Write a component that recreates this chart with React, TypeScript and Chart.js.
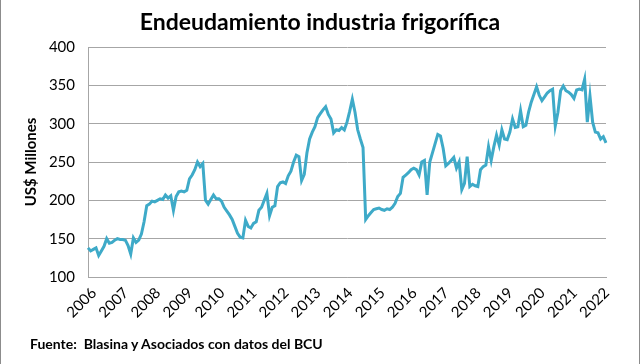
import React, { useEffect, useRef } from "react";
import { Chart, registerables } from "chart.js";

Chart.register(...registerables);

const TITLE = "Endeudamiento industria frigorífica";
const Y_TITLE = "US$ Millones";
const SOURCE = "Fuente:  Blasina y Asociados con datos del BCU";

const startYear = 2006;
const yearTicks = ["2006", "2007", "2008", "2009", "2010", "2011", "2012", "2013", "2014", "2015", "2016", "2017", "2018", "2019", "2020", "2021", "2022"];

// Monthly values, US$ millions (Jan..Dec)
const v2006 = [138, 134, 136, 138, 128, 134, 140, 150, 144, 145, 148, 150];
const v2007 = [149, 149, 148, 141, 130, 151, 145, 148, 156, 172, 193, 195];
const v2008 = [199, 198, 200, 202, 201, 207, 203, 206, 187, 205, 211, 212];
const v2009 = [211, 213, 228, 233, 240, 250, 244, 248, 200, 195, 201, 207];
const v2010 = [202, 202, 199, 191, 186, 181, 175, 166, 157, 152, 151, 174];
const v2011 = [166, 164, 170, 172, 187, 191, 200, 209, 180, 191, 193, 218];
const v2012 = [223, 224, 222, 232, 238, 250, 259, 257, 226, 234, 262, 280];
const v2013 = [289, 296, 308, 313, 318, 322, 312, 306, 288, 292, 291, 295];
const v2014 = [292, 302, 316, 332, 315, 292, 280, 269, 175, 180, 184, 188];
const v2015 = [189, 190, 188, 187, 189, 188, 191, 196, 205, 209, 230, 233];
const v2016 = [236, 240, 242, 240, 233, 250, 252, 207, 250, 262, 274, 286];
const v2017 = [284, 268, 245, 248, 252, 256, 242, 250, 214, 222, 257, 218];
const v2018 = [221, 219, 218, 240, 244, 246, 270, 252, 270, 285, 272, 292];
const v2019 = [280, 279, 289, 306, 295, 296, 317, 296, 298, 315, 328, 338];
const v2020 = [348, 337, 330, 335, 340, 343, 345, 297, 315, 343, 349, 343];
const v2021 = [341, 338, 333, 344, 345, 344, 358, 302, 336, 302, 289, 288];
const v2022 = [280, 283, 275];

const values = [
  ...v2006, ...v2007, ...v2008, ...v2009, ...v2010, ...v2011, ...v2012, ...v2013,
  ...v2014, ...v2015, ...v2016, ...v2017, ...v2018, ...v2019, ...v2020, ...v2021, ...v2022,
];
const labels = values.map((_, i) => `${startYear + Math.floor(i / 12)}-${String((i % 12) + 1).padStart(2, "0")}`);

const FONT = "Lato, 'Open Sans', sans-serif";

export default function App() {
  const ref = useRef<HTMLCanvasElement | null>(null);

  useEffect(() => {
    if (!ref.current) return;
    const chart = new Chart(ref.current, {
      type: "line",
      data: {
        labels,
        datasets: [
          {
            data: values,
            borderColor: "#3eaac8",
            borderWidth: 3,
            pointRadius: 0,
            tension: 0,
            fill: false,
          },
        ],
      },
      options: {
        animation: false,
        responsive: false,
        maintainAspectRatio: false,
        layout: { padding: { top: 47, right: 34, bottom: 37, left: 0 } },
        plugins: {
          legend: { display: false },
          tooltip: { enabled: false },
        },
        scales: {
          x: {
            type: "category",
            offset: false,
            grid: { display: false, drawTicks: false },
            border: { display: true, color: "#a6a6a6" },
            ticks: {
              autoSkip: false,
              maxRotation: 45,
              minRotation: 45,
              padding: 7,
              labelOffset: 6,
              color: "#000",
              font: { family: FONT, size: 15 },
              callback: (_v: any, i: number) => (i % 12 === 0 ? yearTicks[i / 12] : ""),
            },
            afterFit: (s: any) => {
              s.height = 50;
            },
          },
          y: {
            min: 100,
            max: 400,
            grid: { color: "#a6a6a6", drawTicks: false, lineWidth: 1 },
            border: { display: true, color: "#a6a6a6" },
            ticks: {
              stepSize: 50,
              padding: 13,
              color: "#000",
              font: { family: FONT, size: 15 },
            },
            title: {
              display: true,
              text: Y_TITLE,
              color: "#000",
              font: { family: FONT, size: 15, weight: "bold" },
              padding: { top: 22, bottom: 0 },
            },
            afterFit: (s: any) => {
              s.width = 88;
            },
          },
        },
      },
    });
    return () => chart.destroy();
  }, []);

  return (
    <div style={{ position: "fixed", left: 0, top: 0, width: 640, height: 364, background: "#fff" }}>
      <canvas ref={ref} width={640} height={364} style={{ display: "block", width: 640, height: 364 }} />
      <div
        style={{
          position: "absolute",
          left: 0,
          top: 7,
          width: 640,
          textAlign: "center",
          fontFamily: FONT,
          fontWeight: "bold",
          fontSize: 23,
          color: "#000",
        }}
      >
        {TITLE}
      </div>
      <div
        style={{
          position: "absolute",
          left: 30,
          top: 335,
          fontFamily: FONT,
          fontWeight: "bold",
          fontSize: 14,
          color: "#000",
          whiteSpace: "pre",
        }}
      >
        {SOURCE}
      </div>
      <div
        style={{
          position: "absolute",
          left: 0,
          top: 0,
          width: 640,
          height: 364,
          boxSizing: "border-box",
          borderLeft: "1px solid #8c8c8c",
          borderRight: "1px solid #8c8c8c",
          pointerEvents: "none",
        }}
      />
    </div>
  );
}
